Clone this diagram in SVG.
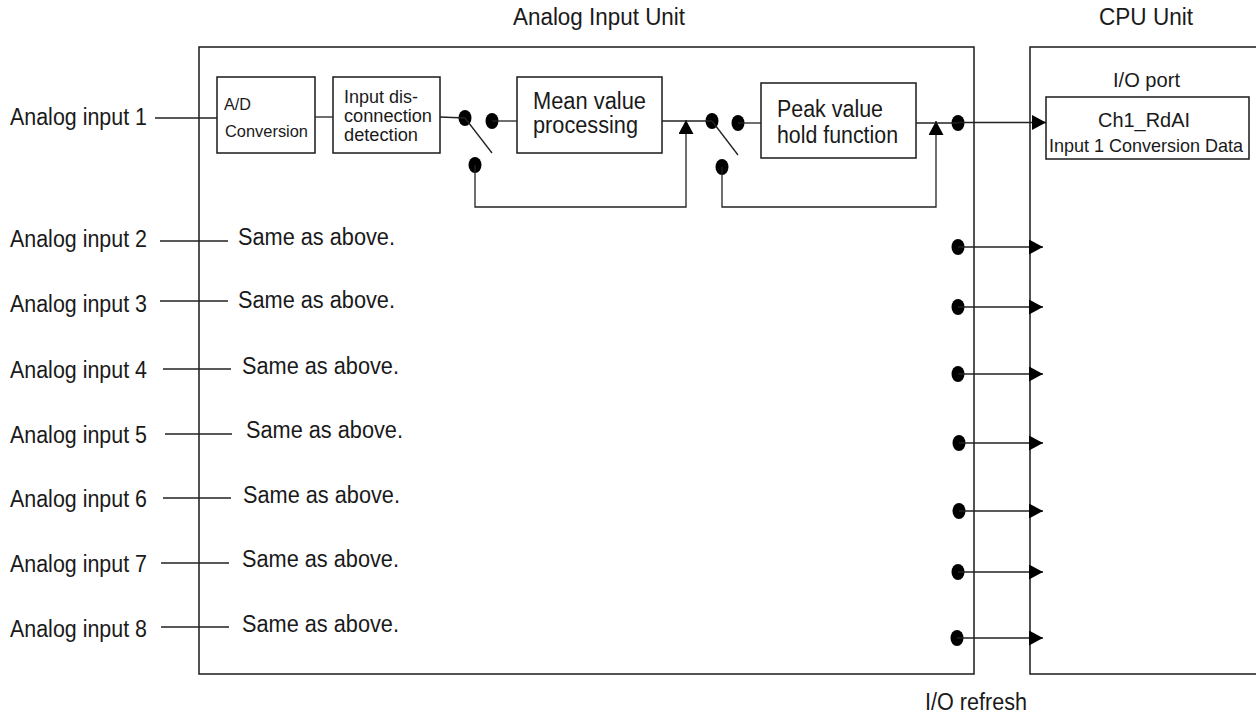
<svg xmlns="http://www.w3.org/2000/svg" width="1256" height="717" viewBox="0 0 1256 717">
<style>
text{font-family:"Liberation Sans",Arial,sans-serif;fill:#1a1a1a;}
.t22{font-size:23px;}
.t21{font-size:21px;}
.box{fill:#fff;stroke:#1a1a1a;stroke-width:1.5;}
.ln{fill:none;stroke:#222;stroke-width:1.3;}
.dot{fill:#000;}
</style>
<defs>
<marker id="arr" viewBox="0 0 14 15" refX="14" refY="7.5" markerWidth="14" markerHeight="15" markerUnits="userSpaceOnUse" orient="auto">
<path d="M0,0 L14,7.5 L0,15 Z" fill="#000"/>
</marker>
</defs>

<g id="analog-input-unit">
<rect class="box" x="199" y="47" width="775" height="627"/>
<text class="t22" x="513" y="25" textLength="172" lengthAdjust="spacingAndGlyphs">Analog Input Unit</text>
</g>
<g id="cpu-unit">
<rect class="box" x="1030" y="47" width="240" height="627"/>
<text class="t22" x="1099" y="25" textLength="94" lengthAdjust="spacingAndGlyphs">CPU Unit</text>
<text class="t21" x="1113" y="87" textLength="67" lengthAdjust="spacingAndGlyphs">I/O port</text>
</g>
<g id="ch1-rdai">
<rect class="box" x="1046" y="97" width="203" height="62"/>
<text class="t21" x="1098" y="127" textLength="92" lengthAdjust="spacingAndGlyphs">Ch1_RdAI</text>
<text style="font-size:18.5px" x="1049" y="152" textLength="194" lengthAdjust="spacingAndGlyphs">Input 1 Conversion Data</text>
</g>
<g id="ad-conversion">
<rect class="box" x="217" y="77" width="98" height="76"/>
<text style="font-size:16.5px" x="224" y="110" textLength="27" lengthAdjust="spacingAndGlyphs">A/D</text>
<text style="font-size:17px" x="225" y="137" textLength="83" lengthAdjust="spacingAndGlyphs">Conversion</text>
</g>
<g id="disconnection-detection">
<rect class="box" x="333" y="77" width="107" height="76"/>
<text style="font-size:18px" x="344" y="103" textLength="74" lengthAdjust="spacingAndGlyphs">Input dis-</text>
<text style="font-size:18px" x="344" y="122" textLength="88" lengthAdjust="spacingAndGlyphs">connection</text>
<text style="font-size:18px" x="344" y="141" textLength="74" lengthAdjust="spacingAndGlyphs">detection</text>
</g>
<g id="mean-value">
<rect class="box" x="517" y="77" width="145" height="76"/>
<text class="t22" x="533" y="109" textLength="113" lengthAdjust="spacingAndGlyphs">Mean value</text>
<text class="t22" x="533" y="133" textLength="105" lengthAdjust="spacingAndGlyphs">processing</text>
</g>
<g id="peak-value">
<rect class="box" x="761" y="83" width="155" height="75"/>
<text class="t22" x="777" y="117" textLength="106" lengthAdjust="spacingAndGlyphs">Peak value</text>
<text class="t22" x="777" y="143" textLength="121" lengthAdjust="spacingAndGlyphs">hold function</text>
</g>
<g id="switch-1">
<ellipse class="dot" cx="465" cy="118" rx="6.5" ry="8"/>
<ellipse class="dot" cx="492" cy="121" rx="6.5" ry="8"/>
<ellipse class="dot" cx="475" cy="165" rx="6.5" ry="8"/>
</g>
<g id="switch-2">
<ellipse class="dot" cx="712" cy="121" rx="6.5" ry="8"/>
<ellipse class="dot" cx="738" cy="123" rx="6.5" ry="8"/>
<ellipse class="dot" cx="722" cy="167" rx="6.5" ry="8"/>
</g>
<g id="refresh-points">
<ellipse class="dot" cx="958" cy="123" rx="6.5" ry="8"/>
<ellipse class="dot" cx="958" cy="247" rx="6.5" ry="8"/>
<ellipse class="dot" cx="958" cy="307" rx="6.5" ry="8"/>
<ellipse class="dot" cx="958" cy="374" rx="6.5" ry="8"/>
<ellipse class="dot" cx="959" cy="443" rx="6.5" ry="8"/>
<ellipse class="dot" cx="959" cy="511" rx="6.5" ry="8"/>
<ellipse class="dot" cx="958" cy="572" rx="6.5" ry="8"/>
<ellipse class="dot" cx="957" cy="638" rx="6.5" ry="8"/>
</g>
<g id="inputs">
<text class="t22" x="10" y="125" textLength="137" lengthAdjust="spacingAndGlyphs">Analog input 1</text>
<text class="t22" x="10" y="247" textLength="137" lengthAdjust="spacingAndGlyphs">Analog input 2</text>
<text class="t22" x="10" y="312" textLength="137" lengthAdjust="spacingAndGlyphs">Analog input 3</text>
<text class="t22" x="10" y="378" textLength="137" lengthAdjust="spacingAndGlyphs">Analog input 4</text>
<text class="t22" x="10" y="443" textLength="137" lengthAdjust="spacingAndGlyphs">Analog input 5</text>
<text class="t22" x="10" y="507" textLength="137" lengthAdjust="spacingAndGlyphs">Analog input 6</text>
<text class="t22" x="10" y="572" textLength="137" lengthAdjust="spacingAndGlyphs">Analog input 7</text>
<text class="t22" x="10" y="637" textLength="137" lengthAdjust="spacingAndGlyphs">Analog input 8</text>
</g>
<g id="same-as-above">
<text class="t22" x="238" y="245" textLength="157" lengthAdjust="spacingAndGlyphs">Same as above.</text>
<text class="t22" x="238" y="308" textLength="157" lengthAdjust="spacingAndGlyphs">Same as above.</text>
<text class="t22" x="242" y="374" textLength="157" lengthAdjust="spacingAndGlyphs">Same as above.</text>
<text class="t22" x="246" y="438" textLength="157" lengthAdjust="spacingAndGlyphs">Same as above.</text>
<text class="t22" x="243" y="503" textLength="157" lengthAdjust="spacingAndGlyphs">Same as above.</text>
<text class="t22" x="242" y="567" textLength="157" lengthAdjust="spacingAndGlyphs">Same as above.</text>
<text class="t22" x="242" y="632" textLength="157" lengthAdjust="spacingAndGlyphs">Same as above.</text>
</g>
<g id="io-refresh-label">
<text class="t22" x="925" y="710" textLength="102" lengthAdjust="spacingAndGlyphs">I/O refresh</text>
</g>

<g id="connectors">
<path class="ln" d="M155,118 H217"/>
<path class="ln" d="M315,117 H333"/>
<path class="ln" d="M440,117 L465,118"/>
<path class="ln" d="M465,118 L492,153"/>
<path class="ln" d="M492,121 H517"/>
<path class="ln" d="M475,165 V207 H686 V120" marker-end="url(#arr)"/>
<path class="ln" d="M662,121 H712"/>
<path class="ln" d="M712,121 L738,155"/>
<path class="ln" d="M738,123 H761"/>
<path class="ln" d="M722,167 V207 H936 V121" marker-end="url(#arr)"/>
<path class="ln" d="M916,123 H958"/>
<path class="ln" d="M958,122.5 H1046" marker-end="url(#arr)"/>
<path class="ln" d="M160,241 H228"/>
<path class="ln" d="M160,301 H228"/>
<path class="ln" d="M163,369 H231"/>
<path class="ln" d="M165,434 H232"/>
<path class="ln" d="M163,498 H231"/>
<path class="ln" d="M161,563 H229"/>
<path class="ln" d="M161,627 H229"/>
<path class="ln" d="M958,247 H1043" marker-end="url(#arr)"/>
<path class="ln" d="M958,307 H1043" marker-end="url(#arr)"/>
<path class="ln" d="M958,374 H1043" marker-end="url(#arr)"/>
<path class="ln" d="M959,443 H1043" marker-end="url(#arr)"/>
<path class="ln" d="M959,511 H1043" marker-end="url(#arr)"/>
<path class="ln" d="M958,572 H1043" marker-end="url(#arr)"/>
<path class="ln" d="M957,638 H1043" marker-end="url(#arr)"/>
</g>
</svg>
